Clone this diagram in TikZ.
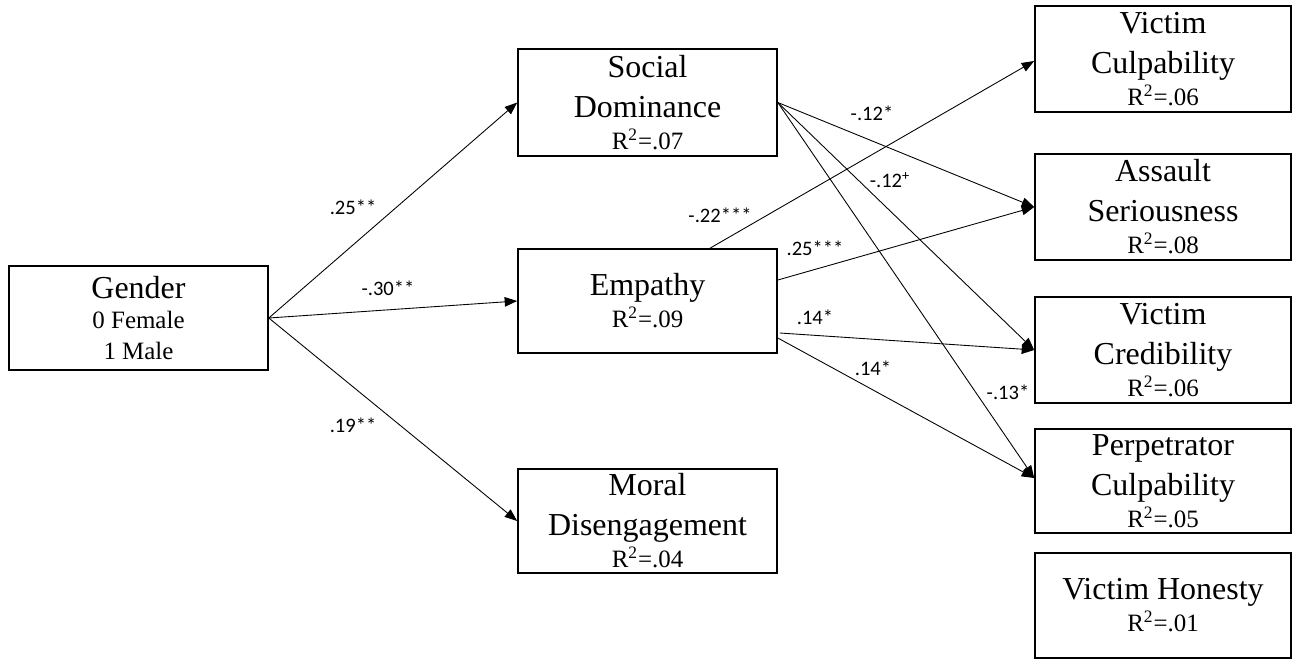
\documentclass[tikz,border=0pt]{standalone}
\usepackage{fontspec}
\setmainfont{Liberation Serif}
\newfontfamily\lblfont{Carlito}
\usetikzlibrary{arrows.meta,calc}

\newcommand{\bigline}{\fontsize{18.2}{22.8}\selectfont}
\newcommand{\smallline}{\fontsize{14.2}{17.6}\selectfont}
\newcommand{\rsq}[1]{{\smallline R\textsuperscript{2}=#1}}

\tikzset{
    varbox/.style = {draw, line width = 0.95pt, align = center, inner sep = 0pt,
                     minimum width = 5.18cm, minimum height = 2.08cm, font = \bigline},
    outbox/.style = {varbox, minimum width = 5.12cm, minimum height = 2.12cm},
    link/.style = {-{Triangle[length = 0.25cm, width = 0.19cm]}, line width = 0.5pt},
    est/.style = {font = \lblfont\fontsize{11.7}{14}\selectfont, inner sep = 0pt}
}

\begin{document}
\begin{tikzpicture}[x = 0.02cm, y = -0.02cm]
        \useasboundingbox (0, 0) rectangle (1292, 659);

        % Praediktor
        \node [varbox] (gender) at (138.5, 318)
            {Gender\\[-5.2pt]{\smallline 0 Female}\\[-5.2pt]{\smallline 1 Male}};

        % Mediatoren
        \node [varbox, minimum height = 2.14cm] (socdom) at (647.5, 102.5)
            {Social\\Dominance\\[-4.4pt]\rsq{.07}};
        \node [varbox] (empathy) at (647.5, 301)
            {Empathy\\[-4.6pt]\rsq{.09}};
        \node [varbox] (moral) at (647.5, 521)
            {Moral\\Disengagement\\[-4.6pt]\rsq{.04}};

        % Outcomes
        \node [outbox] (vc) at (1163, 59)
            {Victim\\Culpability\\[-4.6pt]\rsq{.06}};
        \node [outbox] (as) at (1163, 207)
            {Assault\\Seriousness\\[-4.6pt]\rsq{.08}};
        \node [outbox] (vcr) at (1163, 350)
            {Victim\\Credibility\\[-4.6pt]\rsq{.06}};
        \node [outbox, minimum height = 2.08cm] (pc) at (1163, 481)
            {Perpetrator\\Culpability\\[-4.6pt]\rsq{.05}};
        \node [outbox, minimum height = 2.1cm] (vh) at (1163, 605.5)
            {Victim Honesty\\[-4.6pt]\rsq{.01}};

        % Pfade Gender
        \draw [link] (gender.east) -- (socdom.west);
        \draw [link] (gender.east) -- (empathy.west);
        \draw [link] (gender.east) -- (moral.west);
        \node [est] (g1) at (353, 207) {.25**};
        \node [est] (g2) at (388, 288) {-.30**};
        \node [est] (g3) at (353, 425) {.19**};

        % Pfade Social Dominance
        \draw [link] (socdom.east) -- (as.west);
        \draw [link] (socdom.east) -- (vcr.west);
        \draw [link] (socdom.east) -- ([yshift = 0.06cm] pc.west);
        \node [est] (s1) at (872, 113) {-.12*};
        \node [est] (s2) at (890, 180) {-.12\textsuperscript{+}};
        \node [est] (s3) at (1008, 392) {-.13*};

        % Pfade Empathy
        \coordinate (emptop) at ($(empathy.north west)!0.74!(empathy.north east)$);
        \draw [link] (emptop) -- ([yshift = -0.04cm] vc.west);
        \draw [link] ([yshift = 0.42cm] empathy.east) -- (as.west);
        \draw [link] ([xshift = 0.04cm, yshift = -0.64cm] empathy.east) -- (vcr.west);
        \draw [link] ([yshift = -0.74cm] empathy.east) -- ([yshift = 0.06cm] pc.west);
        \node [est] (e1) at (720, 215) {-.22***};
        \node [est] (e2) at (815, 248) {.25***};
        \node [est] (e3) at (815, 317) {.14*};
        \node [est] (e4) at (873, 368) {.14*};
\end{tikzpicture}
\end{document}
